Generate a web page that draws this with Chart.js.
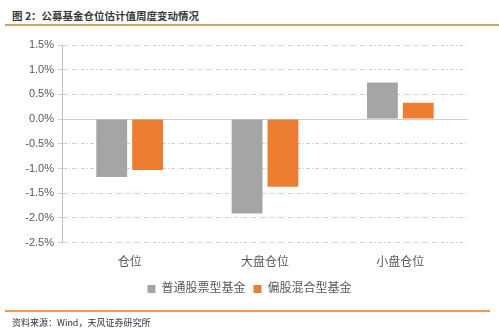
<!DOCTYPE html>
<html>
<head>
<meta charset="utf-8">
<script src="https://cdn.jsdelivr.net/npm/chart.js@4"></script>
<style>
  body { margin: 0; background: #fff; width: 499px; height: 331px; overflow: hidden; position: relative; }
  #title { position: absolute; left: 12px; top: 8px; font: bold 10.5px "Noto Sans CJK SC", sans-serif; color: #3a3a3a; }
  #topline { position: absolute; left: 5px; top: 24px; width: 494px; height: 2px; background: #c9a56a; }
  #botline { position: absolute; left: 5px; top: 310px; width: 485px; height: 2px; background: #ef9a50; }
  #source { position: absolute; left: 12px; top: 316px; font: 9px "Noto Sans CJK SC", sans-serif; color: #333; }
  #wrap { position: absolute; left: 0; top: 0; width: 499px; height: 311px; }
</style>
</head>
<body>
<div id="title">图 2：公募基金仓位估计值周度变动情况</div>
<div id="topline"></div>
<div id="wrap"><canvas id="chart"></canvas></div>
<div id="botline"></div>
<div id="source">资料来源：Wind，天风证券研究所</div>
<script>
const categories = ["仓位", "大盘仓位", "小盘仓位"];
const stockFund = [-1.17, -1.91, 0.74];
const mixedFund = [-1.03, -1.37, 0.33];
const seriesNames = ["普通股票型基金", "偏股混合型基金"];

const fontFamily = '"Liberation Sans", "Noto Sans CJK SC", sans-serif';

document.addEventListener("DOMContentLoaded", function () {
    const ctx = document.getElementById("chart").getContext("2d");

    new Chart(ctx, {
        type: 'bar',
        data: {
            labels: categories,
            datasets: [{
                label: seriesNames[0],
                data: stockFund,
                backgroundColor: '#a5a5a5',
                barPercentage: 0.86,
                categoryPercentage: 0.53
            }, {
                label: seriesNames[1],
                data: mixedFund,
                backgroundColor: '#ed7d31',
                barPercentage: 0.86,
                categoryPercentage: 0.53
            }]
        },
        options: {
            responsive: true,
            maintainAspectRatio: false,
            animation: { duration: 0 },
            layout: {
                padding: { left: 0, right: 0, top: 45, bottom: 6 }
            },
            plugins: {
                tooltip: { enabled: false },
                legend: {
                    position: 'bottom',
                    labels: {
                        boxWidth: 8,
                        boxHeight: 8,
                        padding: 8,
                        color: '#595959',
                        font: { family: fontFamily, size: 12 }
                    }
                }
            },
            scales: {
                x: {
                    grid: { display: false },
                    border: { display: false },
                    ticks: {
                        color: '#595959',
                        padding: 5,
                        font: { family: fontFamily, size: 12 }
                    }
                },
                y: {
                    min: -2.5,
                    max: 1.5,
                    afterFit: scale => { scale.width = 62; },
                    ticks: {
                        stepSize: 0.5,
                        color: '#595959',
                        padding: 4,
                        font: { family: fontFamily, size: 11 },
                        callback: value => value.toFixed(1) + '%'
                    },
                    grid: {
                        color: '#cfcfcf',
                        tickLength: 4,
                        lineWidth: 1
                    },
                    border: {
                        color: '#bfbfbf',
                        width: 1,
                        dash: ctx => ctx.tick && ctx.tick.value === 0 ? [] : [4, 2, 1, 2]
                    }
                },
                // empty right axis so the legend centres on the whole page
                yRight: {
                    position: 'right',
                    min: -2.5,
                    max: 1.5,
                    afterFit: scale => { scale.width = 31; },
                    ticks: { display: false },
                    grid: { display: false },
                    border: { display: false }
                }
            }
        }
    });
});
</script>
</body>
</html>
